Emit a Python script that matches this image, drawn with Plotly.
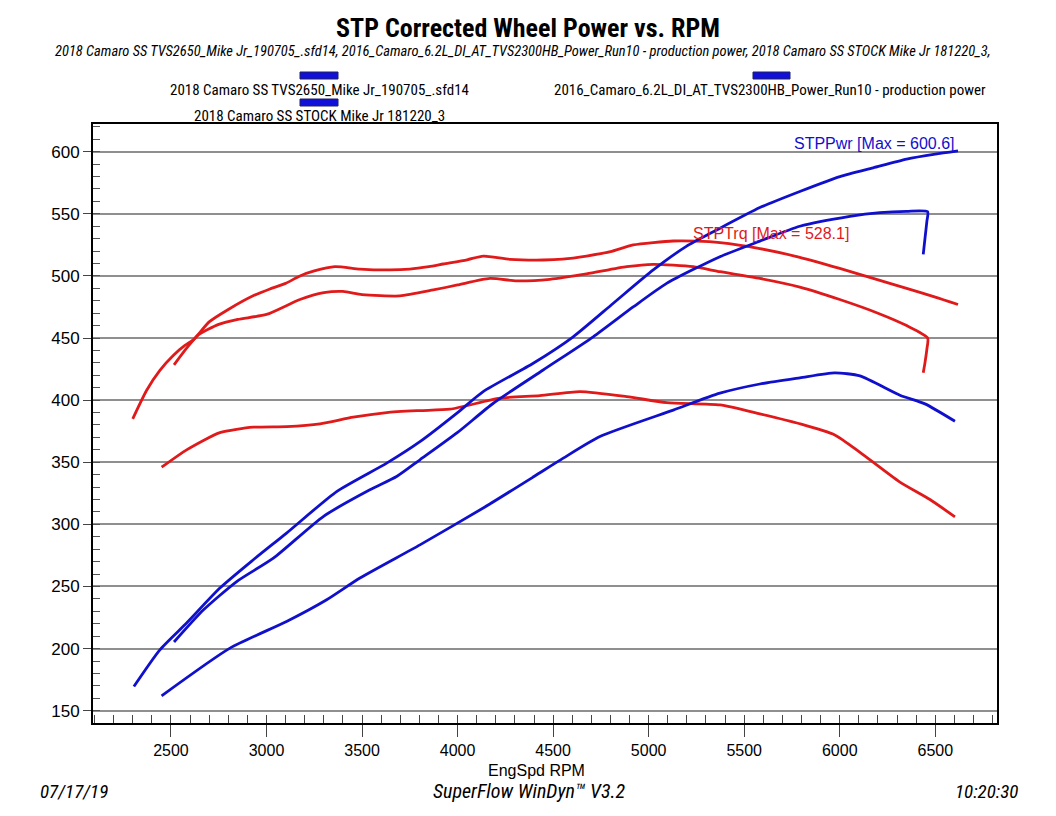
import plotly.graph_objects as go

# ---------------- data ----------------
# Run A: 2018 Camaro SS TVS2650_Mike Jr_190705_.sfd14
rpm_a_trq = [2300, 2373, 2442, 2512, 2573, 2617, 2700, 2800, 2930, 3018, 3100, 3175, 3250, 3358, 3489,
             3646, 3750, 3850, 3925, 4050, 4134, 4274, 4448, 4550, 4675, 4800, 4919, 5129, 5250, 5373,
             5582, 5791, 6000, 6175, 6350, 6500, 6619]
trq_a = [385, 408, 424, 436, 444, 448.5, 463, 473, 484, 489.5, 494, 500, 504, 507.5, 505.5,
         504.8, 505.5, 507.5, 509.6, 513, 516, 513.4, 512.8, 513.5, 516, 519.5, 524.9, 528.1, 528, 526.8,
         522, 515, 506, 498, 490, 483, 477]
rpm_a_pwr = [2306, 2442, 2582, 2756, 2931, 3105, 3367, 3629, 3803, 4000, 4134, 4396, 4605, 4815, 5024,
             5199, 5338, 5582, 5791, 6001, 6175, 6350, 6500, 6619]
pwr_a = [169.5, 199, 220.6, 248.7, 271.5, 293, 326.4, 349.3, 366.6, 390, 406.9, 429.7, 451, 478, 504.8,
         524, 535.5, 555, 568, 580, 587, 594, 598, 600.6]

# Run B: 2016_Camaro_6.2L_DI_AT_TVS2300HB_Power_Run10 - production power
rpm_b_trq = [2516, 2582, 2643, 2750, 2850, 3000, 3175, 3300, 3400, 3500, 3698, 3873, 4000, 4169, 4309,
             4483, 4675, 4885, 5024, 5233, 5373, 5582, 5791, 6000, 6200, 6350, 6460, 6456, 6446, 6437]
trq_b = [428.4, 441.8, 452.5, 461, 465, 469, 481, 486.5, 487.5, 485, 483.9, 488.7, 492.7, 498, 496,
         497.3, 501.6, 507.4, 509.3, 507.4, 503.4, 498, 491, 481, 470, 460, 450, 441, 430, 422]
rpm_b_pwr = [2516, 2669, 2844, 3036, 3297, 3541, 3681, 3803, 4000, 4187, 4448, 4710, 4919, 5094, 5373,
             5582, 5791, 6053, 6210, 6350, 6460, 6456, 6446, 6437]
pwr_b = [205.3, 231, 254, 272.8, 306.3, 327.8, 338.5, 352, 374, 397.5, 424.3, 451, 475, 494, 515.5,
         528, 540, 548, 551, 552, 551.7, 544, 530, 517.4]

# Run C: 2018 Camaro SS STOCK Mike Jr 181220_3
rpm_c_trq = [2451, 2582, 2756, 2931, 3105, 3280, 3454, 3629, 3803, 3960, 4222, 4431, 4640, 4885, 5094,
             5373, 5582, 5791, 5974, 6106, 6315, 6472, 6603]
trq_c = [346, 360, 373.9, 378.2, 378.7, 380.9, 386.3, 390, 391.6, 392.7, 401.6, 403.6, 406.9, 402.9, 398,
         396.2, 389, 381, 372, 358, 334, 320, 306]
rpm_c_pwr = [2451, 2809, 3105, 3315, 3489, 3803, 4143, 4400, 4553, 4745, 5129, 5373, 5582, 5791, 5974,
             6106, 6315, 6446, 6603]
pwr_c = [162, 200.4, 221.8, 239.3, 256.8, 283.5, 314, 338.5, 353.3, 370.7, 392, 405.6, 413, 418, 422,
         419.5, 404, 397, 383]

run_names = ["2018 Camaro SS TVS2650_Mike Jr_190705_.sfd14",
             "2016_Camaro_6.2L_DI_AT_TVS2300HB_Power_Run10 - production power",
             "2018 Camaro SS STOCK Mike Jr 181220_3"]

x_ticks = [2500, 3000, 3500, 4000, 4500, 5000, 5500, 6000, 6500]
y_ticks = [150, 200, 250, 300, 350, 400, 450, 500, 550, 600]

BLUE = "#1010CC"
RED = "#E01A1A"
NARROW = "Liberation Sans Narrow, Arial Narrow, Roboto Condensed, sans-serif"
ARIAL = "Liberation Sans, Arial, sans-serif"

fig = go.Figure()
series = [
    (rpm_a_trq, trq_a, RED, run_names[0] + " STPTrq"),
    (rpm_b_trq, trq_b, RED, run_names[1] + " STPTrq"),
    (rpm_c_trq, trq_c, RED, run_names[2] + " STPTrq"),
    (rpm_a_pwr, pwr_a, BLUE, run_names[0] + " STPPwr"),
    (rpm_b_pwr, pwr_b, BLUE, run_names[1] + " STPPwr"),
    (rpm_c_pwr, pwr_c, BLUE, run_names[2] + " STPPwr"),
]
for xs, ys, col, nm in series:
    fig.add_trace(go.Scatter(x=xs, y=ys, mode="lines", name=nm,
                             line=dict(color=col, width=2.8, shape="spline", smoothing=0.6),
                             showlegend=False, hoverinfo="x+y+name"))

# page offset (default body margin) and figure size
OFF = 8
FW, FH = 1056 - 2 * OFF, 816 - 2 * OFF
# plot area in page pixels: x 93..997, y 124..723
L, R, T, B = 93, 997, 124, 723
W, H = R - L, B - T
def px(x):
    return (x - L) / W
def py(y):
    return (B - y) / H

annotations = [
    dict(text="<i>2018 Camaro SS TVS2650_Mike Jr_190705_.sfd14, 2016_Camaro_6.2L_DI_AT_TVS2300HB_Power_Run10 - production power, 2018 Camaro SS STOCK Mike Jr 181220_3,</i>",
         x=px(523), y=py(51), font=dict(family=NARROW, size=14.5, color="black"), xanchor="center", yanchor="middle"),
    dict(text=run_names[0], x=px(319), y=py(90), font=dict(family=NARROW, size=15, color="black"),
         xanchor="center", yanchor="middle"),
    dict(text=run_names[1], x=px(770), y=py(90), font=dict(family=NARROW, size=15, color="black"),
         xanchor="center", yanchor="middle"),
    dict(text=run_names[2], x=px(319), y=py(116), font=dict(family=NARROW, size=15, color="black"),
         xanchor="center", yanchor="middle"),
    dict(text="STPPwr [Max = 600.6]", x=px(957), y=py(143), font=dict(family=ARIAL, size=16, color=BLUE),
         xanchor="right", yanchor="middle"),
    dict(text="STPTrq [Max = 528.1]", x=px(691), y=py(233), font=dict(family=ARIAL, size=16, color=RED),
         xanchor="left", yanchor="middle"),
    dict(text="EngSpd RPM", x=px(536), y=py(770), font=dict(family=ARIAL, size=16, color="black"),
         xanchor="center", yanchor="middle"),
    dict(text="<i>07/17/19</i>", x=px(38), y=py(791), font=dict(family=NARROW, size=19, color="black"),
         xanchor="left", yanchor="middle"),
    dict(text="<i>SuperFlow WinDyn™ V3.2</i>", x=px(529), y=py(791), font=dict(family=NARROW, size=20, color="black"),
         xanchor="center", yanchor="middle"),
    dict(text="<i>10:20:30</i>", x=px(1020), y=py(791), font=dict(family=NARROW, size=19, color="black"),
         xanchor="right", yanchor="middle"),
]
for a in annotations:
    a.update(xref="paper", yref="paper", showarrow=False)

shapes = []
for (x0, x1, y0, y1) in [(300, 338, 72, 79), (753, 790, 72, 79), (300, 338, 99, 106)]:
    shapes.append(dict(type="rect", xref="paper", yref="paper", x0=px(x0), x1=px(x1), y0=py(y1), y1=py(y0),
                       fillcolor="#1010D8", line=dict(color="#202060", width=1)))

fig.update_layout(
    width=FW, height=FH,
    margin=dict(l=L - OFF, r=FW - (R - OFF), t=T - OFF, b=FH - (B - OFF), pad=0),
    paper_bgcolor="white", plot_bgcolor="white",
    title=dict(text="<b>STP Corrected Wheel Power vs. RPM</b>", x=(528 - OFF) / FW, xanchor="center",
               y=1 - (28 - OFF) / FH, yanchor="middle", font=dict(family=NARROW, size=26, color="black")),
    annotations=annotations, shapes=shapes,
    showlegend=False,
)
fig.update_xaxes(
    range=[2092, 6823], tickvals=x_ticks, ticktext=[str(v) for v in x_ticks],
    ticks="outside", ticklen=12, tickwidth=1, tickcolor="#444",
    minor=dict(dtick=100, tick0=0, ticks="inside", ticklen=8, tickcolor="#444", showgrid=False),
    showgrid=False, zeroline=False,
    showline=True, linecolor="black", linewidth=2, mirror=True,
    tickfont=dict(family=ARIAL, size=16, color="black"),
)
fig.update_yaxes(
    range=[140.1, 622.3], tickvals=y_ticks, ticktext=[str(v) for v in y_ticks],
    ticks="outside", ticklen=8, tickwidth=1, tickcolor="#444",
    minor=dict(dtick=10, tick0=0, ticks="inside", ticklen=7, tickcolor="#555", showgrid=False),
    showgrid=True, gridcolor="#8f8f8f", gridwidth=1.5, zeroline=False,
    showline=True, linecolor="black", linewidth=2, mirror=True,
    tickfont=dict(family=ARIAL, size=17, color="black"),
)

fig.write_html("out.html")
